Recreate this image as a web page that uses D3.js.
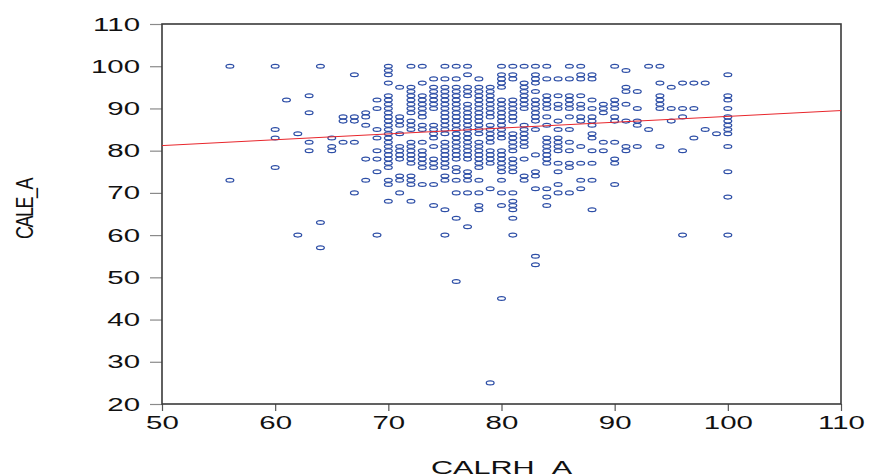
<!DOCTYPE html>
<html>
<head>
<meta charset="utf-8">
<script src="https://cdn.jsdelivr.net/npm/d3@7"></script>
<style>
  html, body { margin: 0; padding: 0; background: #fff; }
  svg { display: block; }
  text { font-family: "Liberation Sans", Arial, Helvetica, sans-serif; fill: #111; }
</style>
</head>
<body>
<svg id="chart" width="869" height="476"></svg>
<script>
// CALRH_A values (one entry per column of observations)
const calrhValues = [56, 60, 61, 62, 63, 64, 65, 66, 67, 68, 69, 70, 71, 72, 73, 74, 75, 76, 77, 78,
  79, 80, 81, 82, 83, 84, 85, 86, 87, 88, 89, 90, 91, 92, 93, 94, 95, 96, 97, 98, 99, 100];

// CALE_A values observed at each CALRH_A value above
const caleaByColumn = [
  [100, 73],
  [100, 85, 83, 76],
  [92],
  [84, 60],
  [93, 89, 82, 80],
  [100, 63, 57],
  [83, 81, 80],
  [88, 87, 82],
  [98, 88, 87, 82, 70],
  [89, 88, 86, 78, 73],
  [92, 90, 85, 83, 80, 78, 75, 60],
  [100, 99, 98, 96, 93, 92, 91, 90, 89, 88, 87, 86, 85, 84, 83, 82, 81, 80, 79, 78, 77, 76, 73, 72, 68],
  [95, 88, 87, 86, 84, 81, 80, 79, 78, 74, 73, 70],
  [100, 95, 94, 93, 92, 91, 90, 89, 87, 86, 85, 82, 81, 80, 79, 78, 77, 74, 73, 72, 68],
  [100, 96, 93, 92, 91, 90, 89, 88, 86, 85, 82, 80, 79, 78, 77, 76, 72],
  [97, 95, 94, 93, 92, 91, 90, 86, 85, 84, 83, 81, 78, 77, 76, 72, 67],
  [100, 97, 95, 94, 93, 92, 91, 90, 89, 88, 87, 86, 85, 84, 82, 81, 80, 79, 78, 77, 76, 74, 73, 66, 60],
  [100, 97, 95, 94, 93, 92, 91, 90, 89, 88, 87, 86, 85, 84, 83, 82, 81, 80, 79, 78, 76, 75, 73, 70, 64, 49],
  [100, 98, 95, 94, 93, 91, 90, 89, 88, 87, 86, 85, 84, 83, 82, 81, 80, 79, 78, 75, 74, 73, 70, 62],
  [97, 95, 94, 93, 92, 91, 90, 89, 88, 87, 86, 85, 84, 82, 81, 80, 79, 78, 77, 76, 73, 70, 67, 66],
  [95, 94, 93, 92, 91, 90, 89, 88, 86, 85, 84, 83, 82, 80, 79, 78, 77, 71, 25],
  [100, 98, 97, 96, 95, 92, 91, 90, 89, 88, 87, 86, 85, 84, 83, 80, 79, 78, 77, 76, 75, 73, 70, 67, 45],
  [100, 98, 97, 92, 91, 90, 89, 88, 87, 84, 83, 82, 81, 80, 78, 77, 76, 75, 70, 68, 67, 66, 64, 60],
  [100, 96, 95, 94, 93, 92, 91, 90, 86, 85, 84, 83, 82, 81, 78, 74, 73],
  [100, 98, 97, 96, 94, 92, 91, 90, 89, 88, 87, 85, 79, 75, 74, 71, 55, 53],
  [100, 97, 93, 92, 91, 90, 88, 86, 83, 82, 81, 80, 79, 78, 77, 71, 69, 67],
  [97, 93, 91, 90, 87, 85, 83, 82, 81, 80, 77, 75, 72, 70],
  [100, 97, 93, 92, 91, 90, 88, 85, 82, 80, 77, 76, 70],
  [100, 98, 97, 93, 91, 90, 88, 87, 81, 77, 73, 71],
  [98, 97, 92, 90, 88, 87, 86, 84, 83, 80, 77, 73, 66],
  [91, 90, 89, 82, 80],
  [100, 92, 91, 90, 88, 87, 82, 78, 77, 72],
  [99, 95, 94, 91, 87, 81, 80],
  [94, 90, 87, 86, 81],
  [100, 85],
  [100, 96, 93, 92, 91, 90, 81],
  [95, 90, 87],
  [96, 90, 88, 80, 60],
  [96, 90, 83],
  [96, 85],
  [84],
  [98, 93, 92, 90, 88, 87, 86, 85, 84, 81, 75, 69, 60]
];

// Fitted line end points
const fitX = [50, 110];
const fitY = [81.2, 89.5];

// Tick values
const xTicks = [50, 60, 70, 80, 90, 100, 110];
const yTicks = [20, 30, 40, 50, 60, 70, 80, 90, 100, 110];

const points = calrhValues.flatMap((xv, i) => caleaByColumn[i].map(yv => ({ x: xv, y: yv })));

const margin = { left: 162, right: 28, top: 24, bottom: 72 };
const W = 869, H = 476;
const svg = d3.select("#chart");

const x = d3.scaleLinear().domain([50, 110]).range([margin.left, W - margin.right]);
const y = d3.scaleLinear().domain([20, 110]).range([H - margin.bottom, margin.top]);

const stretch = 1.55; // wide lettering

// Y axis
const yAxis = svg.append("g")
  .attr("transform", `translate(${margin.left},0)`)
  .call(d3.axisLeft(y).tickValues(yTicks).tickSize(12).tickPadding(10).tickFormat(d3.format("d")));
yAxis.select(".domain").remove();
yAxis.selectAll(".tick line").attr("stroke", "#8a8a8a").attr("stroke-width", 1.2);
yAxis.selectAll(".tick text")
  .attr("font-size", 19)
  .attr("x", -22 / stretch)
  .attr("transform", `scale(${stretch},1)`)
  .attr("fill", "#111");

// X axis
const xAxis = svg.append("g")
  .attr("transform", `translate(0,${y(20)})`)
  .call(d3.axisBottom(x).tickValues(xTicks).tickSize(7).tickPadding(5).tickFormat(d3.format("d")));
xAxis.select(".domain").remove();
xAxis.selectAll(".tick line").attr("stroke", "#555").attr("stroke-width", 1.2);
xAxis.selectAll(".tick text")
  .attr("font-size", 19)
  .attr("transform", `scale(${stretch},1)`)
  .attr("fill", "#111");

// Plot frame
svg.append("rect")
  .attr("x", x(50)).attr("y", y(110))
  .attr("width", x(110) - x(50)).attr("height", y(20) - y(110))
  .attr("fill", "none").attr("stroke", "#3a3a3a").attr("stroke-width", 1.6);

// Observations
svg.append("g").selectAll("ellipse")
  .data(points)
  .join("ellipse")
  .attr("cx", d => x(d.x))
  .attr("cy", d => y(d.y))
  .attr("rx", 3.9)
  .attr("ry", 1.9)
  .attr("fill", "none")
  .attr("stroke", "#2d4ea6")
  .attr("stroke-width", 1.25);

// Fitted line
svg.append("line")
  .attr("x1", x(fitX[0])).attr("y1", y(fitY[0]))
  .attr("x2", x(fitX[1])).attr("y2", y(fitY[1]))
  .attr("stroke", "#e8262c").attr("stroke-width", 1);

// Axis titles
svg.append("text")
  .attr("transform", `translate(${(x(50) + x(110)) / 2},474) scale(1.7,1)`)
  .attr("text-anchor", "middle")
  .attr("font-size", 18)
  .text("CALRH_A");

svg.append("text")
  .attr("transform", `translate(33,209) scale(1.3,1) rotate(-90)`)
  .attr("text-anchor", "middle")
  .attr("font-size", 18)
  .attr("letter-spacing", "-1.5px")
  .text("CALE_A");
</script>
</body>
</html>
